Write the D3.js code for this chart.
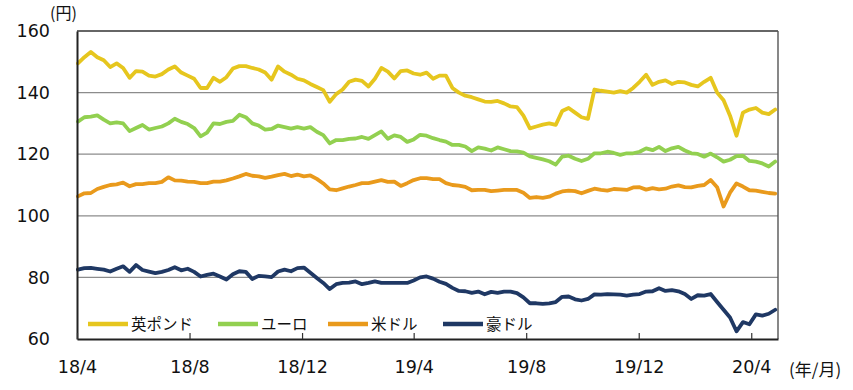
<!DOCTYPE html>
<html>
<head>
<meta charset="utf-8">
<script src="https://cdn.jsdelivr.net/npm/d3@7"></script>
<style>
  html, body { margin: 0; padding: 0; background: #fff; }
  svg { display: block; }
</style>
</head>
<body>
<svg id="chart" width="853" height="390"></svg>
<script>
// ---- data (weekly samples, starting 2018-04-02) ----
const seriesNames = ["英ポンド", "ユーロ", "米ドル", "豪ドル"];
const gbp = [149.5,151.5,153.2,151.5,150.5,148.3,149.5,148,144.8,147,146.8,145.5,145.2,146,147.5,148.5,146.5,145.5,144.5,141.5,141.5,144.8,143.5,145,147.8,148.6,148.6,148,
  147.5,146.5,144.2,148.5,146.8,145.8,144.5,144,142.8,141.8,140.8,137,139.5,141,143.5,144.2,143.8,142,144.5,148,146.8,144.6,147,147.2,146.2,145.8,146.5,
  144.5,145.5,145.5,141.5,140,139,138.5,137.8,137.1,137,137.3,136.5,135.5,135.3,132.5,128.4,129,129.6,130,129.5,134,135,133.5,132,131.5,141,
  140.6,140.3,140,140.5,140,141.5,143.5,145.8,142.5,143.5,144,142.8,143.5,143.3,142.5,142,143.5,144.8,140,137.5,132.5,126,133.5,134.5,135,133.5,133,134.5];
const eur = [130.6,132,132.2,132.6,131.2,130,130.3,130,127.5,128.5,129.5,128,128.5,129,130,131.5,130.5,129.8,128.5,125.8,127,130,129.8,130.5,130.8,132.8,132,130,
  129.3,128,128.2,129.3,128.8,128.3,128.8,128.3,128.8,127.3,126.2,123.5,124.6,124.6,125,125.1,125.6,125,126.2,127.4,125,126.1,125.6,124,124.8,126.3,126,
  125.2,124.6,124.1,123,123,122.5,121,122.2,121.8,121.2,122.2,121.6,121,120.9,120.5,119.3,118.8,118.3,117.7,116.6,119.2,119.5,118.5,117.8,118.5,120.3,
  120.3,120.8,120.4,119.8,120.3,120.3,120.8,121.9,121.3,122.4,121,121.9,122.4,121.2,120.3,120.1,119.2,120.2,119,117.6,118.2,119.4,119.5,117.8,117.6,117,116,117.6];
const usd = [106.3,107.3,107.4,108.7,109.4,110,110.2,110.8,109.6,110.3,110.3,110.6,110.6,111,112.5,111.5,111.4,111.1,111,110.6,110.6,111.1,111.1,111.5,112.1,112.8,113.6,113,
  112.8,112.3,112.7,113.2,113.6,112.9,113.4,112.8,113.1,112,110.5,108.6,108.3,108.9,109.5,110,110.6,110.6,111.1,111.6,111,111.1,109.7,110.6,111.6,112.2,112.2,
  111.9,111.9,110.6,110,109.8,109.4,108.3,108.4,108.4,108,108.2,108.4,108.4,108.4,107.5,105.8,106.1,105.8,106.2,107.2,107.9,108.2,108,107.3,108.1,108.8,
  108.4,108.2,108.7,108.6,108.4,109.2,109.3,108.5,109,108.6,108.8,109.5,109.9,109.3,109.2,109.7,110,111.6,109.3,103,107.5,110.5,109.5,108.3,108.2,107.8,107.4,107.2];
const aud = [82.5,83,83.1,82.8,82.5,81.9,82.8,83.6,81.8,84,82.4,81.9,81.4,81.8,82.4,83.3,82.3,82.8,81.8,80.3,80.8,81.2,80.3,79.3,81,82,81.8,79.5,
  80.5,80.3,80.1,81.9,82.5,82,83,83.2,81.5,79.8,78.2,76.2,77.8,78.2,78.3,78.7,77.8,78.2,78.7,78.2,78.2,78.2,78.2,78.2,79,80,80.3,
  79.6,78.6,77.9,76.6,75.6,75.5,75,75.4,74.5,75.3,75,75.4,75.4,74.9,73.5,71.6,71.6,71.4,71.6,72,73.7,73.8,72.9,72.5,73,74.5,
  74.4,74.6,74.5,74.4,74.1,74.4,74.6,75.4,75.5,76.5,75.6,75.9,75.5,74.6,73,74.2,74.1,74.6,72,69.5,67,62.5,65.5,64.8,68,67.6,68.2,69.5];
const xTickLabels = ["18/4", "18/8", "18/12", "19/4", "19/8", "19/12", "20/4"];
const yTickValues = [60, 80, 100, 120, 140, 160];
const colors = ["#E6C61E", "#92D050", "#E99A1C", "#1F3864"];

// ---- layout ----
const L = 77, R = 778, T = 31, B = 339;
const svg = d3.select("#chart");
const start = new Date(2018, 3, 2);
const dates = d3.range(gbp.length).map(i => d3.timeDay.offset(start, 7 * i));
const x = d3.scaleTime().domain([new Date(2018, 3, 1), new Date(2020, 3, 30)]).range([L, R]);
const y = d3.scaleLinear().domain([60, 160]).range([B, T]);
const tickDates = xTickLabels.map(s => {
  const [yy, mm] = s.split("/").map(Number);
  return new Date(2000 + yy, mm - 1, 1);
});

// gridlines
svg.append("g").selectAll("line")
  .data(yTickValues.filter(v => v > 60 && v < 160))
  .join("line")
  .attr("x1", L).attr("x2", R)
  .attr("y1", d => y(d)).attr("y2", d => y(d))
  .attr("stroke", "#8c8c8c").attr("stroke-width", 1.2);

// frame top/right
svg.append("line").attr("x1", L).attr("x2", R).attr("y1", T).attr("y2", T)
  .attr("stroke", "#333").attr("stroke-width", 1.6);
svg.append("line").attr("x1", R).attr("x2", R).attr("y1", T).attr("y2", B)
  .attr("stroke", "#555").attr("stroke-width", 1.4);

// lines
const series = [gbp, eur, usd, aud];
const line = d3.line().x((d, i) => x(dates[i])).y(d => y(d)).curve(d3.curveLinear);
svg.append("g").selectAll("path")
  .data(series)
  .join("path")
  .attr("d", d => line(d))
  .attr("fill", "none")
  .attr("stroke", (d, i) => colors[i])
  .attr("stroke-width", 3.8)
  .attr("stroke-linejoin", "round")
  .attr("stroke-linecap", "round");

// axes
const fontNum = "'DejaVu Sans', Verdana, sans-serif";
const yAxis = svg.append("g").attr("transform", `translate(${L},0)`)
  .call(d3.axisLeft(y).tickValues(yTickValues).tickSize(0).tickPadding(27));
yAxis.select(".domain").attr("stroke", "#222").attr("stroke-width", 2);
yAxis.selectAll("text").attr("font-family", fontNum).attr("font-size", 17.5).attr("fill", "#111");

const xAxis = svg.append("g").attr("transform", `translate(0,${B})`)
  .call(d3.axisBottom(x).tickValues(tickDates).tickFormat((d, i) => xTickLabels[i]).tickSizeInner(-6).tickSizeOuter(0).tickPadding(22));
xAxis.select(".domain").attr("stroke", "#222").attr("stroke-width", 2);
xAxis.selectAll(".tick line").attr("stroke", "#333").attr("stroke-width", 1.2);
xAxis.selectAll("text").attr("font-family", fontNum).attr("font-size", 17.5).attr("fill", "#111");

// unit labels
const fontJP = "'Noto Sans CJK JP', sans-serif";
svg.append("text").attr("x", 50).attr("y", 19).attr("font-family", fontJP).attr("font-size", 16)
  .attr("fill", "#111").text("(円)");
svg.append("text").attr("x", 789).attr("y", 376).attr("font-family", fontJP).attr("font-size", 17)
  .attr("fill", "#111").text("(年/月)");

// legend
const legendX = [88, 218, 328, 443];
const legendY = 324;
const lg = svg.append("g").selectAll("g").data(seriesNames).join("g")
  .attr("transform", (d, i) => `translate(${legendX[i]},${legendY})`);
lg.append("line").attr("x1", 0).attr("x2", 40).attr("y1", 0).attr("y2", 0)
  .attr("stroke", (d, i) => colors[i]).attr("stroke-width", 4.5);
lg.append("text").attr("x", 43).attr("y", 0).attr("dy", "0.36em")
  .attr("font-family", fontJP).attr("font-size", 15.5).attr("fill", "#111")
  .text(d => d);
</script>
</body>
</html>
